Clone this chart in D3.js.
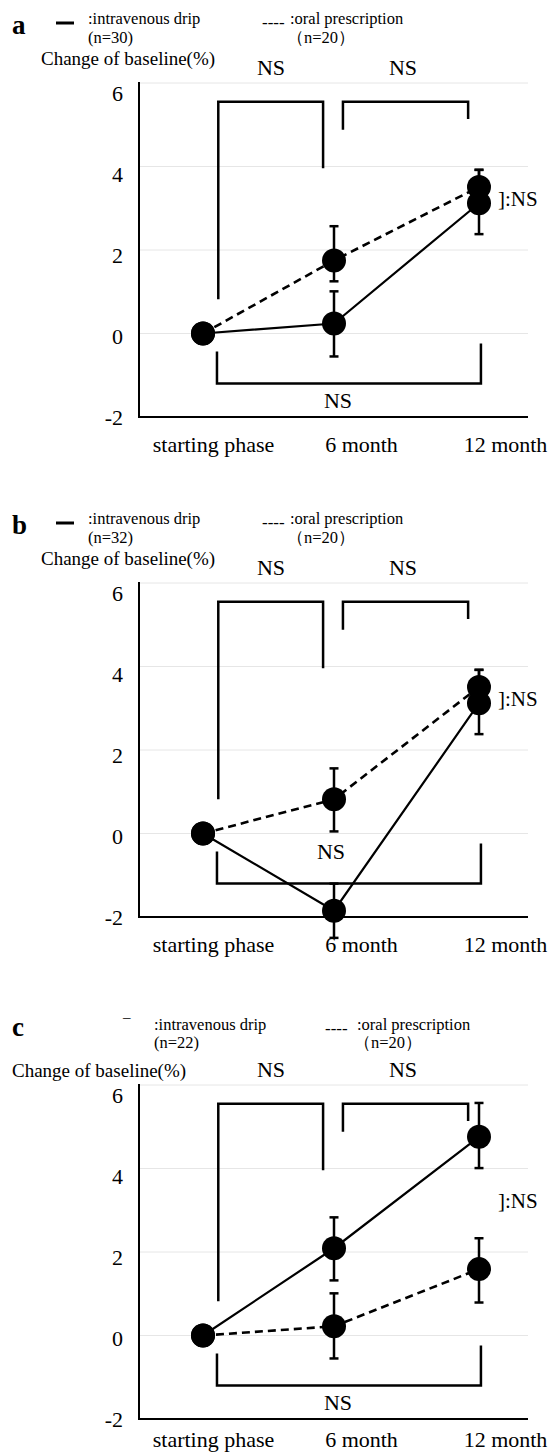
<!DOCTYPE html>
<html lang="en">
<head>
<meta charset="UTF-8"/>
<title>Change of baseline</title>
<script src="https://d3js.org/d3.v7.min.js"></script>
<style>
	body { margin: 0; background: #fff; }
	svg text { font-family: "Liberation Serif", "Times New Roman", serif; fill: #000; }
	.cjk { font-feature-settings: "halt"; }
</style>
</head>
<body>
<script>
var w = 551;
var h = 1452;

var months = [0, 6, 12];
var monthLabels = ["starting phase", "6 month", "12 month"];
var yTicks = [-2, 0, 2, 4, 6];
var panelNames = ["a", "b", "c"];
var ivN = [30, 32, 22];
var oralN = [20, 20, 20];

// mean change of baseline (%), one row per panel
var ivMean = [[0, 0.24, 3.12], [0, -1.85, 3.12], [0, 2.09, 4.76]];
var ivLow = [[0, -0.55, 2.38], [0, -2.5, 2.38], [0, 1.32, 4.01]];
var ivHigh = [[0, 1.01, 3.92], [0, -1.2, 3.92], [0, 2.83, 5.57]];

var oralMean = [[0, 1.75, 3.51], [0, 0.82, 3.51], [0, 0.22, 1.59]];
var oralLow = [[0, 1.25, 3.1], [0, 0.05, 3.1], [0, -0.55, 0.79]];
var oralHigh = [[0, 2.57, 3.92], [0, 1.56, 3.92], [0, 1.01, 2.33]];

var panelTop = [0, 500, 1002];

var svg = d3.select("body")
			.append("svg")
			.attr("width", w)
			.attr("height", h);

function drawPanel(p) {
	var top = panelTop[p];
	var g = svg.append("g").attr("transform", "translate(0," + top + ")");

	var x = d3.scaleLinear().domain(months).range([203, 334, 479]);
	var xLab = d3.scaleLinear().domain(months).range([213, 361, 505]);
	var y = d3.scaleLinear().domain([-2, 6]).range([417, 83]);
	var yLab = d3.scaleLinear().domain([-2, 6]).range([417, 93]);

	//gridlines
	g.selectAll(".grid")
		.data(yTicks.filter(function(d){ return d > -2; }))
		.enter()
		.append("line")
		.attr("x1", 140).attr("x2", 528)
		.attr("y1", function(d){ return y(d); })
		.attr("y2", function(d){ return y(d); })
		.attr("stroke", "#e6e6e6")
		.attr("stroke-width", 1);

	//axis lines
	g.append("line")
		.attr("x1", 139).attr("x2", 139)
		.attr("y1", y(6) - 1).attr("y2", y(-2) + 1)
		.attr("stroke", "#000").attr("stroke-width", 2);
	g.append("line")
		.attr("x1", 138).attr("x2", 528)
		.attr("y1", y(-2)).attr("y2", y(-2))
		.attr("stroke", "#000").attr("stroke-width", 2);

	//tick labels
	var yAxis = d3.axisLeft(yLab).tickValues(yTicks).tickSize(0).tickPadding(3)
		.tickFormat(function(d){ return String(d); });
	var ya = g.append("g").attr("transform", "translate(126,0)").call(yAxis);
	ya.select(".domain").remove();
	ya.selectAll("text").style("font-size", "22px").style("font-family", "Liberation Serif");

	var xAxis = d3.axisBottom(xLab).tickValues(months).tickSize(0).tickPadding(p === 2 ? 12 : 19)
		.tickFormat(function(d, i){ return monthLabels[i]; });
	var xa = g.append("g").attr("transform", "translate(0," + y(-2) + ")").call(xAxis);
	xa.select(".domain").remove();
	xa.selectAll("text").style("font-size", "22px").style("font-family", "Liberation Serif");

	//significance brackets
	var brackets = [
		[[0.7, 0.82], [0.7, 5.55], [5.5, 5.55], [5.5, 3.96]],
		[[6.37, 4.88], [6.37, 5.55], [11.55, 5.55], [11.55, 5.14]],
		[[0.64, -0.43], [0.64, -1.2], [12.08, -1.2], [12.08, -0.24]]
	];
	var bline = d3.line()
		.x(function(d){ return x(d[0]); })
		.y(function(d){ return y(d[1]); });
	g.selectAll(".bracket")
		.data(brackets)
		.enter()
		.append("path")
		.attr("d", bline)
		.attr("fill", "none")
		.attr("stroke", "#000")
		.attr("stroke-width", 2.5);

	var series = [
		{mean: ivMean[p], lo: ivLow[p], hi: ivHigh[p], dash: null, sw: 2.2},
		{mean: oralMean[p], lo: oralLow[p], hi: oralHigh[p], dash: "8,5", sw: 2.6}
	];

	var line = d3.line()
		.x(function(d, i){ return x(months[i]); })
		.y(function(d){ return y(d); });

	series.forEach(function(s){
		g.append("path")
			.attr("d", line(s.mean))
			.attr("fill", "none")
			.attr("stroke", "#000")
			.attr("stroke-width", s.sw)
			.attr("stroke-dasharray", s.dash);
	});

	//error bars
	series.forEach(function(s){
		months.forEach(function(m, i){
			if (s.lo[i] === s.hi[i]) return;
			var cx = x(m);
			g.append("line")
				.attr("x1", cx).attr("x2", cx)
				.attr("y1", y(s.lo[i])).attr("y2", y(s.hi[i]))
				.attr("stroke", "#000").attr("stroke-width", 2.5);
			[s.lo[i], s.hi[i]].forEach(function(v){
				g.append("line")
					.attr("x1", cx - 4.5).attr("x2", cx + 4.5)
					.attr("y1", y(v)).attr("y2", y(v))
					.attr("stroke", "#000").attr("stroke-width", 2.5);
			});
		});
	});

	//data points
	series.forEach(function(s){
		g.selectAll(null)
			.data(s.mean)
			.enter()
			.append("circle")
			.attr("cx", function(d, i){ return x(months[i]); })
			.attr("cy", function(d){ return y(d); })
			.attr("r", 12)
			.attr("fill", "#000");
	});

	//NS labels
	var ns = g.append("g").style("font-size", "22px");
	ns.append("text").attr("x", 271).attr("y", 75).attr("text-anchor", "middle").text("NS");
	ns.append("text").attr("x", 403).attr("y", 75).attr("text-anchor", "middle").text("NS");
	ns.append("text").attr("x", p === 1 ? 331 : 338).attr("y", p === 1 ? 359 : 408)
		.attr("text-anchor", "middle").text("NS");
	ns.append("text").attr("x", 498).attr("y", 206).style("font-size", "21px").text("]:NS");

	//legend + titles
	var lx = p === 2 ? [154, 325, 357] : [88, 262, 290];
	var ly = p === 2 ? [28, 46] : [24, 43];

	g.append("text")
		.attr("x", 12).attr("y", 34)
		.style("font-size", "27px").style("font-weight", "bold")
		.text(panelNames[p]);

	if (p === 2) {
		g.append("text").attr("x", 123).attr("y", 20).style("font-size", "15px").text("–");
	} else {
		g.append("line")
			.attr("x1", 56).attr("x2", 74).attr("y1", 23).attr("y2", 23)
			.attr("stroke", "#000").attr("stroke-width", 3);
	}
	g.append("text").attr("x", lx[0]).attr("y", ly[0]).style("font-size", "16.5px").text(":intravenous drip");
	g.append("text").attr("x", lx[0]).attr("y", ly[1]).style("font-size", "16.5px").text("(n=" + ivN[p] + ")");
	g.append("text").attr("x", lx[1]).attr("y", ly[0] + 4).style("font-size", "17px").text("----");
	g.append("text").attr("x", lx[2]).attr("y", ly[0]).style("font-size", "16.5px").text(":oral prescription");
	g.append("text").attr("class", "cjk").attr("x", lx[2] - 3).attr("y", ly[1]).style("font-size", "16.5px")
		.text("（n=" + oralN[p] + "）");

	g.append("text")
		.attr("x", p === 2 ? 12 : 41).attr("y", p === 2 ? 75 : 65)
		.style("font-size", "19px")
		.text("Change of baseline(%)");
}

panelNames.forEach(function(d, i){ drawPanel(i); });
</script>
</body>
</html>
